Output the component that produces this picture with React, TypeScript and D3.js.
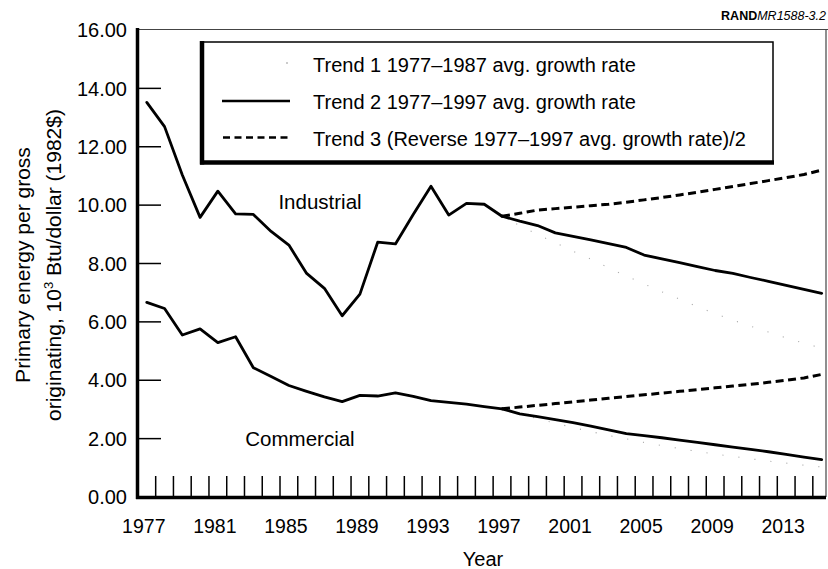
import React from 'react';
import * as d3 from 'd3';

// ---------- data ----------
const histYears = [1977, 1978, 1979, 1980, 1981, 1982, 1983, 1984, 1985, 1986, 1987, 1988, 1989, 1990, 1991, 1992, 1993, 1994, 1995, 1996, 1997];
const industrialHist = [13.52, 12.69, 11.03, 9.58, 10.48, 9.70, 9.68, 9.10, 8.63, 7.66, 7.15, 6.21, 6.95, 8.73, 8.67, 9.68, 10.65, 9.66, 10.06, 10.03, 9.62];
const commercialHist = [6.67, 6.46, 5.55, 5.76, 5.29, 5.49, 4.43, 4.13, 3.82, 3.62, 3.43, 3.27, 3.48, 3.46, 3.57, 3.45, 3.30, 3.24, 3.18, 3.10, 3.02];

const trendYears = [1997, 1998, 1999, 2000, 2001, 2002, 2003, 2004, 2005, 2006, 2007, 2008, 2009, 2010, 2011, 2012, 2013, 2014, 2015];
const industrialTrend1 = [9.62, 9.30, 9.00, 8.71, 8.42, 8.15, 7.85, 7.57, 7.30, 7.03, 6.78, 6.52, 6.28, 6.06, 5.85, 5.65, 5.45, 5.27, 5.10];
const industrialTrend2 = [9.62, 9.45, 9.30, 9.05, 8.93, 8.81, 8.68, 8.55, 8.29, 8.16, 8.03, 7.89, 7.76, 7.66, 7.52, 7.39, 7.25, 7.11, 6.98];
const industrialTrend3 = [9.62, 9.72, 9.83, 9.88, 9.93, 9.98, 10.03, 10.10, 10.18, 10.26, 10.35, 10.44, 10.54, 10.64, 10.74, 10.84, 10.94, 11.05, 11.20];
const commercialTrend1 = [3.02, 2.85, 2.68, 2.53, 2.38, 2.24, 2.11, 1.99, 1.87, 1.76, 1.66, 1.56, 1.47, 1.39, 1.31, 1.23, 1.16, 1.09, 1.03];
const commercialTrend2 = [3.02, 2.85, 2.75, 2.65, 2.55, 2.43, 2.30, 2.17, 2.10, 2.03, 1.95, 1.87, 1.79, 1.71, 1.63, 1.55, 1.46, 1.37, 1.28];
const commercialTrend3 = [3.02, 3.08, 3.14, 3.20, 3.26, 3.32, 3.38, 3.44, 3.50, 3.56, 3.62, 3.68, 3.74, 3.80, 3.86, 3.93, 4.00, 4.08, 4.20];

const yTickValues = [0, 2, 4, 6, 8, 10, 12, 14, 16];
const xLabelYears = [1977, 1981, 1985, 1989, 1993, 1997, 2001, 2005, 2009, 2013];
const legendLabels = [
  'Trend 1 1977\u20131987 avg. growth rate',
  'Trend 2 1977\u20131997 avg. growth rate',
  'Trend 3 (Reverse 1977\u20131997 avg. growth rate)/2',
];

const FONT = '"Liberation Sans", Arial, Helvetica, sans-serif';

export default function App() {
  const W = 828;
  const H = 569;
  const x = d3.scaleLinear().domain([1977, 2015]).range([146.8, 821.7]);
  const y = d3.scaleLinear().domain([0, 16]).range([497, 30]);

  const line = d3
    .line<[number, number]>()
    .x((d) => x(d[0]))
    .y((d) => y(d[1]));

  const zip = (years: number[], vals: number[]) => years.map((yr, i) => [yr, vals[i]] as [number, number]);

  const tickYears = d3.range(1977.5, 2015, 1);
  const x0 = 137.5;
  const yBase = y(0);

  const solid = { fill: 'none', stroke: '#000', strokeWidth: 2.8, strokeLinejoin: 'round' as const, strokeLinecap: 'round' as const };
  const dashed = { fill: 'none', stroke: '#000', strokeWidth: 3, strokeDasharray: '8 4.5' };
  const dotted = { fill: 'none', stroke: '#aaaaaa', strokeWidth: 1.1, strokeDasharray: '1.1 15' };

  return (
    <svg
      width={W}
      height={H}
      style={{ position: 'absolute', left: 0, top: 0, background: '#fff' }}
      fontFamily={FONT}
    >
      <rect x={0} y={0} width={W} height={H} fill="#fff" />

      {/* RAND label */}
      <text x={826} y={20} textAnchor="end" fontSize={12.5} fill="#000">
        <tspan fontWeight="bold">RAND</tspan>
        <tspan fontStyle="italic">MR1588-3.2</tspan>
      </text>

      {/* frame */}
      <line x1={x0} x2={828} y1={29.5} y2={29.5} stroke="#444" strokeWidth={1.2} />
      <line x1={826} x2={826} y1={29.5} y2={yBase} stroke="#444" strokeWidth={1.2} />

      {/* y ticks */}
      {yTickValues.filter((v) => v > 0 && v < 16).map((v) => (
        <line key={'yt' + v} x1={x0} x2={161} y1={y(v)} y2={y(v)} stroke="#000" strokeWidth={1.5} />
      ))}
      {/* x ticks */}
      {tickYears.map((t) => (
        <line key={'xt' + t} x1={x(t)} x2={x(t)} y1={yBase} y2={yBase - 21} stroke="#000" strokeWidth={1.5} />
      ))}

      {/* axes */}
      <line x1={x0} x2={x0} y1={28} y2={yBase + 2} stroke="#000" strokeWidth={3.5} />
      <line x1={136} x2={826} y1={yBase + 0.5} y2={yBase + 0.5} stroke="#000" strokeWidth={3.5} />

      {/* y tick labels */}
      {yTickValues.map((v) => (
        <text key={'yl' + v} x={127} y={y(v)} dy="0.36em" textAnchor="end" fontSize={20} fill="#000">
          {v.toFixed(2)}
        </text>
      ))}
      {/* x tick labels */}
      {xLabelYears.map((yr) => (
        <text key={'xl' + yr} x={x(yr) - 3} y={533} textAnchor="middle" fontSize={19.5} fill="#000">
          {yr}
        </text>
      ))}

      {/* axis titles */}
      <text x={483} y={566} textAnchor="middle" fontSize={20} fill="#000">Year</text>
      <text transform="translate(30,265) rotate(-90)" textAnchor="middle" fontSize={21} fill="#000">
        Primary energy per gross
      </text>
      <text transform="translate(61,265) rotate(-90)" textAnchor="middle" fontSize={21} fill="#000">
        originating, 10
        <tspan fontSize={13} dy={-8}>3</tspan>
        <tspan dy={8}> Btu/dollar (1982$)</tspan>
      </text>

      {/* trend 1 (faint dots) */}
      <path d={line(zip(trendYears, industrialTrend1)) || ''} {...dotted} />
      <path d={line(zip(trendYears, commercialTrend1)) || ''} {...dotted} />

      {/* trend 3 dashed */}
      <path d={line(zip(trendYears, industrialTrend3)) || ''} {...dashed} />
      <path d={line(zip(trendYears, commercialTrend3)) || ''} {...dashed} />

      {/* historical + trend 2 */}
      <path d={line(zip(histYears, industrialHist)) || ''} {...solid} />
      <path d={line(zip(histYears, commercialHist)) || ''} {...solid} />
      <path d={line(zip(trendYears, industrialTrend2)) || ''} {...solid} />
      <path d={line(zip(trendYears, commercialTrend2)) || ''} {...solid} />

      {/* series labels */}
      <text x={320} y={209} textAnchor="middle" fontSize={20.5} fill="#000">Industrial</text>
      <text x={300} y={446} textAnchor="middle" fontSize={20.5} fill="#000">Commercial</text>

      {/* legend */}
      <rect x={202} y={42} width={571} height={120} fill="#fff" stroke="#000" strokeWidth={1.5} />
      <line x1={202} x2={202} y1={41} y2={164.5} stroke="#000" strokeWidth={4.5} />
      <line x1={200} x2={774} y1={162.5} y2={162.5} stroke="#000" strokeWidth={4.5} />
      <circle cx={287} cy={63} r={0.8} fill="#888" />
      <line x1={222} x2={290} y1={101} y2={101} stroke="#000" strokeWidth={2.6} />
      <line x1={223} x2={291} y1={137.5} y2={137.5} stroke="#000" strokeWidth={2.6} strokeDasharray="7 4.5" />
      {legendLabels.map((lab, i) => (
        <text key={lab} x={313} y={[71.5, 109, 146][i]} fontSize={20} fill="#000">
          {lab}
        </text>
      ))}
    </svg>
  );
}
